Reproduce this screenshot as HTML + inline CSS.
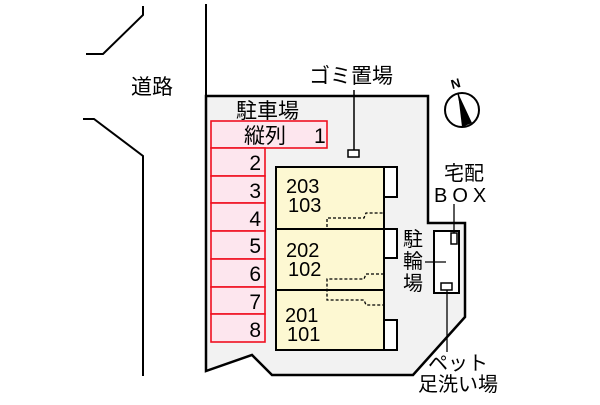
<!DOCTYPE html><html><head><meta charset="utf-8"><style>body{margin:0;background:#fff}svg text{font-family:"Liberation Sans","Noto Sans CJK JP",sans-serif;fill:#000}</style></head><body>
<svg width="600" height="400" viewBox="0 0 600 400" xmlns="http://www.w3.org/2000/svg">
<g fill="none" stroke="#000" stroke-width="2">
<polyline points="86,54 103,54 143,15 143,6"/>
<polyline points="83,119 94,119 143,156 143,376"/>
<line x1="206" y1="4" x2="206" y2="96"/>
</g>
<polygon points="206,96 428,96 428,223 465,223 465,317 413,375 272,375 252,355 206,371" fill="#f2f2f2" stroke="#000" stroke-width="2.5"/>
<text x="131" y="94" font-size="21">道路</text>
<text x="236" y="118" font-size="21">駐車場</text>
<g fill="#fde6ee" stroke="#f01020" stroke-width="1.6">
<rect x="211" y="121" width="116" height="27"/>
<rect x="211" y="148" width="54" height="28"/><rect x="211" y="176" width="54" height="27"/>
<rect x="211" y="203" width="54" height="28"/><rect x="211" y="231" width="54" height="28"/>
<rect x="211" y="259" width="54" height="28"/><rect x="211" y="287" width="54" height="27"/>
<rect x="211" y="314" width="54" height="28"/>
</g>
<g font-size="21"><text x="244" y="143">縦列</text><text x="314" y="143">1</text>
<g text-anchor="end"><text x="261" y="170">2</text><text x="261" y="198">3</text><text x="261" y="226">4</text><text x="261" y="253">5</text><text x="261" y="281">6</text><text x="261" y="309">7</text><text x="261" y="337">8</text></g></g>
<g stroke="#000" stroke-width="2"><rect x="276" y="167" width="108" height="62" fill="#fdf8d2"/><rect x="276" y="229" width="108" height="61" fill="#fdf8d2"/><rect x="276" y="290" width="108" height="60" fill="#fdf8d2"/>
<rect x="384" y="167" width="13" height="30" fill="#fff"/><rect x="384" y="229" width="13" height="29" fill="#fff"/><rect x="384" y="320" width="13" height="30" fill="#fff"/></g>
<g fill="none" stroke="#000" stroke-width="1.3" stroke-dasharray="3,2">
<polyline points="327,227 327,218 364,218 366,213 384,213"/>
<polyline points="384,274 366,274 364,279 327,279 327,300 364,300 366,305 384,305"/>
</g>
<g font-size="20"><text x="286" y="193">203</text><text x="288" y="212">103</text><text x="286" y="257">202</text><text x="288" y="276">102</text><text x="285" y="322">201</text><text x="287" y="341">101</text></g>
<line x1="354" y1="90" x2="354" y2="150" stroke="#000" stroke-width="1.5"/>
<rect x="348" y="150" width="11" height="7" fill="#fff" stroke="#000" stroke-width="1.5"/>
<text x="309" y="83" font-size="21">ゴミ置場</text>
<circle cx="462" cy="110" r="17" fill="#fff" stroke="#000" stroke-width="2"/>
<line x1="458" y1="93" x2="465" y2="127" stroke="#000" stroke-width="1.5"/>
<polygon points="458,93 472,123 462,127" fill="#000"/>
<text x="451" y="88" font-size="13" font-weight="bold" transform="rotate(-15 456 84)">N</text>
<rect x="434" y="231" width="25" height="62" fill="#fff" stroke="#000" stroke-width="2"/>
<rect x="451" y="233" width="6" height="11" fill="#fff" stroke="#000" stroke-width="1.5"/>
<rect x="441" y="283" width="11" height="7" fill="#fff" stroke="#000" stroke-width="1.5"/>
<g stroke="#000" stroke-width="1.3"><line x1="454" y1="204" x2="454" y2="233"/><line x1="425" y1="262" x2="446" y2="262"/><line x1="447" y1="290" x2="447" y2="352"/></g>
<text x="444" y="180" font-size="20">宅配</text>
<text x="434" y="202" font-size="20" letter-spacing="5">BOX</text>
<g font-size="20"><text x="403" y="246">駐</text><text x="403" y="268">輪</text><text x="403" y="290">場</text></g>
<text x="428" y="370" font-size="20">ペット</text>
<text x="418" y="391" font-size="20">足洗い場</text>
</svg></body></html>
